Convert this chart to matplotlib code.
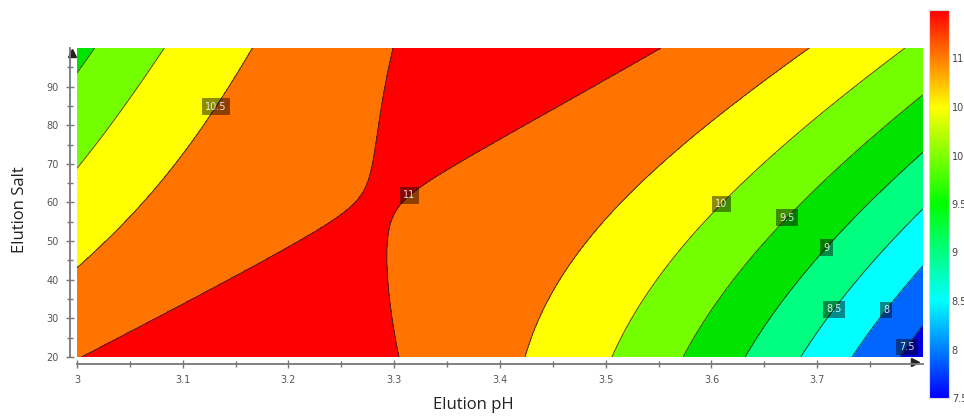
import numpy as np
import matplotlib
matplotlib.use("Agg")
import matplotlib.pyplot as plt
from matplotlib.colors import LinearSegmentedColormap, Normalize
from matplotlib.cm import ScalarMappable
from matplotlib.transforms import ScaledTranslation

# ---- Data: contour crossings (Elution pH, Elution Salt) ----
c11a_ph = [3.010, 3.163, 3.210, 3.251, 3.278, 3.286, 3.291, 3.295, 3.297]
c11a_salt = [20, 43.1, 50.3, 57.6, 63.3, 68.5, 72.0, 85.0, 99.6]
c11b_ph = [3.300, 3.302, 3.305, 3.311, 3.319, 3.342, 3.380, 3.475, 3.562]
c11b_salt = [20, 30, 42.6, 56.3, 61.5, 65.9, 72.4, 87.4, 99.6]
c105a_ph = [3.000, 3.031, 3.085, 3.123, 3.160]
c105a_salt = [43.9, 51.1, 67.7, 80.7, 94.0]
c105b_ph = [3.425, 3.458, 3.500, 3.543, 3.600, 3.689]
c105b_salt = [20, 41.8, 58.9, 70.3, 81.4, 98.8]
c10a_ph = [3.003, 3.022, 3.053, 3.081]
c10a_salt = [69.3, 76.3, 87.4, 99.6]
c10b_ph = [3.508, 3.543, 3.585, 3.619, 3.663, 3.692, 3.726, 3.776]
c10b_salt = [20, 41.8, 55.5, 62.5, 73.7, 78.9, 86.6, 99.6]
c95a_ph = [3.000, 3.014]
c95a_salt = [93.9, 99.6]
c95b_ph = [3.575, 3.613, 3.657, 3.692, 3.726, 3.799]
c95b_salt = [20, 40, 52.1, 61.5, 68.5, 89.2]
c9_ph = [3.634, 3.663, 3.692, 3.710, 3.758, 3.799]
c9_salt = [20, 32.2, 42.6, 48.5, 62.5, 72.4]
c85_ph = [3.686, 3.726, 3.767, 3.799]
c85_salt = [20, 34, 47, 58.6]
c8_ph = [3.731, 3.767, 3.799]
c8_salt = [20, 33, 43.9]
c75_ph = [3.776, 3.799]
c75_salt = [20, 28.8]
# inside the red neck (estimated)
neck_ph = [3.296, 3.300]
neck_salt = [60.0, 62.0]
neck_val = [11.05, 11.05]

levels = [7.5, 8, 8.5, 9, 9.5, 10, 10.5, 11]
cbar_ticks = [7.5, 8, 8.5, 9, 9.5, 10, 10.5, 11]
x_ticks = [3, 3.1, 3.2, 3.3, 3.4, 3.5, 3.6, 3.7]
y_ticks = [20, 30, 40, 50, 60, 70, 80, 90]

traces = [
    (11.0, c11a_ph, c11a_salt), (11.0, c11b_ph, c11b_salt),
    (10.5, c105a_ph, c105a_salt), (10.5, c105b_ph, c105b_salt),
    (10.0, c10a_ph, c10a_salt), (10.0, c10b_ph, c10b_salt),
    (9.5, c95a_ph, c95a_salt), (9.5, c95b_ph, c95b_salt),
    (9.0, c9_ph, c9_salt), (8.5, c85_ph, c85_salt),
    (8.0, c8_ph, c8_salt), (7.5, c75_ph, c75_salt),
]
P, S, Z = list(neck_ph), list(neck_salt), list(neck_val)
for lv, ph, sl in traces:
    P += ph; S += sl; Z += [lv] * len(ph)
P, S, Z = np.array(P), np.array(S), np.array(Z)

def basis(p, s):
    u = (p - 3.4) / 0.4
    v = (s - 60.0) / 40.0
    return np.stack([np.ones_like(u), u, v, u*u, u*v, v*v,
                     u**3, u*u*v, u*v*v, v**3], axis=-1)

coef, *_ = np.linalg.lstsq(basis(P, S), Z, rcond=None)

gp = np.linspace(3.0, 3.8, 400)
gs = np.linspace(20, 100, 400)
GP, GS = np.meshgrid(gp, gs)
GZ = basis(GP, GS) @ coef

# ---- Figure ----
W, H = 964, 418
fig = plt.figure(figsize=(W/100, H/100), dpi=100)
fig.patch.set_facecolor("white")
L, R, T, B = 77, 923, 48, 357
ax = fig.add_axes([L/W, (H-B)/H, (R-L)/W, (B-T)/H])

band_colors = ["#0000e0", "#0066ff", "#00ffff", "#00ff80", "#00e400",
               "#73ff00", "#ffff00", "#ff7300", "#ff0000"]
fill_levels = [-100] + levels + [100]
ax.contourf(GP, GS, GZ, levels=fill_levels, colors=band_colors)
cs = ax.contour(GP, GS, GZ, levels=levels, colors="#2a2a2a", linewidths=0.7, alpha=0.85)

label_pos = [(3.137, 83.8), (3.321, 59.7), (3.613, 58.6), (3.674, 55.5),
             (3.710, 48.0), (3.718, 31.9), (3.765, 32.2), (3.783, 22.9)]
txts = ax.clabel(cs, manual=label_pos, inline=False, fontsize=7,
                 colors="white", fmt=lambda v: f"{v:g}")
for t in txts:
    t.set_rotation(0)
    t.set_bbox(dict(boxstyle="square,pad=0.35", fc=(0, 0, 0, 0.45), ec="none"))

ax.set_xlim(3.0, 3.8)
ax.set_ylim(20, 100)
for sp in ["top", "right"]:
    ax.spines[sp].set_visible(False)
for sp in ["left", "bottom"]:
    ax.spines[sp].set_position(("outward", 5))
    ax.spines[sp].set_color("#777777")
    ax.spines[sp].set_linewidth(1.3)

ax.set_xticks(x_ticks)
ax.set_xticklabels([f"{v:g}" for v in x_ticks])
ax.set_yticks(y_ticks)
ax.set_xticks(np.arange(3.05, 3.8, 0.1), minor=True)
ax.set_yticks(np.arange(25, 100, 10), minor=True)
ax.tick_params(which="major", direction="inout", length=6, width=1, colors="#777777",
               labelsize=7, labelcolor="#555555", pad=5)
ax.tick_params(which="minor", direction="inout", length=4, width=1, colors="#777777")

# arrow heads on the axes
offx = ax.transAxes + ScaledTranslation(-5/100, 0, fig.dpi_scale_trans)
offy = ax.transAxes + ScaledTranslation(0, -5/100, fig.dpi_scale_trans)
ax.plot([0], [0.985], marker="^", ms=6, color="#222222", transform=offx, clip_on=False)
ax.plot([0.99], [0], marker=">", ms=6, color="#222222", transform=offy, clip_on=False)

ax.set_xlabel("Elution pH", fontsize=12, color="#222222", family="Open Sans")
ax.set_ylabel("Elution Salt", fontsize=12, color="#222222", family="Open Sans")
ax.xaxis.set_label_coords((473-L)/(R-L), (B-397)/(B-T))
ax.yaxis.set_label_coords((28-L)/(R-L), (B-210)/(B-T))

# colorbar
cmap = LinearSegmentedColormap.from_list(
    "jetlike", [(0, "#0000ff"), (0.25, "#00ffff"), (0.5, "#00ff00"),
                (0.75, "#ffff00"), (1.0, "#ff0000")])
sm = ScalarMappable(norm=Normalize(7.5, 11.5), cmap=cmap)
ctop, cbot = 10, 398
cax = fig.add_axes([929/W, (H-cbot)/H, 20/W, (cbot-ctop)/H])
cb = fig.colorbar(sm, cax=cax, ticks=cbar_ticks)
cb.ax.set_yticklabels([f"{v:g}" for v in cbar_ticks])
cb.ax.tick_params(length=0, pad=2, labelsize=7, labelcolor="#444444")
cb.outline.set_edgecolor("#dddddd")

fig.savefig("out.png", dpi=100)
